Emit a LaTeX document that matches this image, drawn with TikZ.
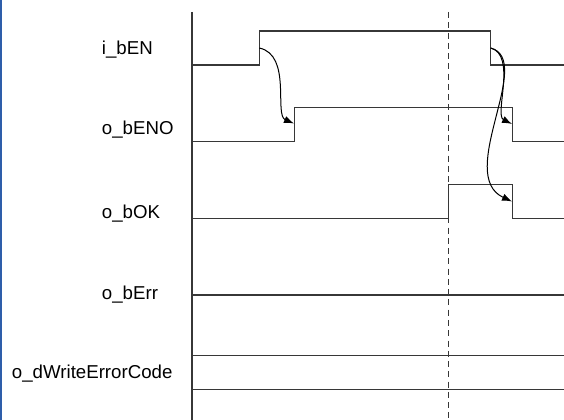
\documentclass[tikz,border=0pt]{standalone}
\usepackage{fontspec}
\setmainfont{Liberation Sans}
\usetikzlibrary{arrows.meta}
\definecolor{edgeblue}{RGB}{46,94,170}
\definecolor{wire}{RGB}{55,55,55}

\begin{document}
\begin{tikzpicture}[x=0.75pt,y=-0.75pt,
    signal/.style={line width=0.9pt,draw=wire},
    cause/.style={line width=0.75pt,-{Latex[length=7.5pt,width=5.5pt]}},
    sigtext/.style={anchor=base west,inner sep=0pt,font=\fontsize{14}{16}\selectfont}]
\useasboundingbox (0,0) rectangle (564,420);

% Frame edge
\fill[edgeblue] (0,0) rectangle (2.3,420);

% Signal names
\node[sigtext] (en) at (101.7,54.7) {i\_bEN};
\node[sigtext] (eno) at (101.7,134.7) {o\_bENO};
\node[sigtext] (ok) at (101.7,218.7) {o\_bOK};
\node[sigtext] (err) at (101.7,299.7) {o\_bErr};
\node[sigtext,anchor=base east] (code) at (172.7,378.7) {o\_dWriteErrorCode};

% Time axis and marker
\draw[signal] (192,12) -- (192,420);
\draw[line width=0.7pt,draw=wire,dash pattern=on 4.5pt off 3.2pt] (448.7,12) -- (448.7,420);

% Waveforms
\draw[signal] (192,65) -- (259.3,65) -- (259.3,31) -- (490.7,31) -- (490.7,65) -- (564,65);
\draw[signal] (192,141.7) -- (294.7,141.7) -- (294.7,107.7) -- (512.7,107.7) -- (512.7,141.7) -- (564,141.7);
\draw[signal] (192,218.3) -- (448.7,218.3) -- (448.7,184.3) -- (512.7,184.3) -- (512.7,218.3) -- (564,218.3);
\draw[signal] (192,295) -- (564,295);
\draw[signal] (192,355.7) -- (564,355.7);
\draw[signal] (192,389.3) -- (564,389.3);

% Edge points
\coordinate (enrise) at (259.3,48);
\coordinate (enfall) at (490.7,48);
\coordinate (enorise) at (294,123.5);
\coordinate (enofall) at (512,124);
\coordinate (okfall) at (512,201.5);

% Causal arrows
\draw[cause] (enrise) .. controls (292,55) and (274,115) .. (enorise);
\draw[cause] (enfall) .. controls (517,55) and (494,115) .. (enofall);
\draw[cause] (enfall) .. controls (535,60) and (455,175) .. (okfall);

\end{tikzpicture}
\end{document}
